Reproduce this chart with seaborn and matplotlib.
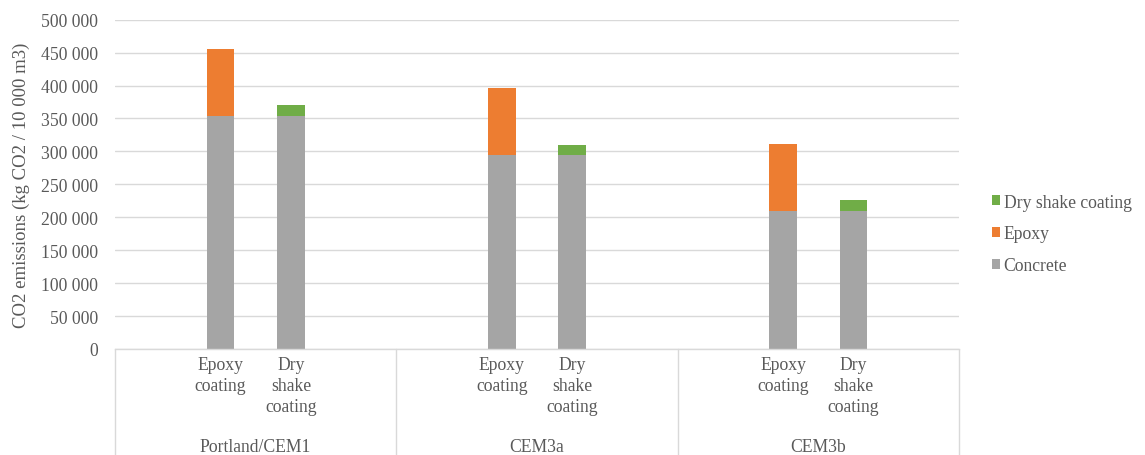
"""
Stacked CO2 emissions per binder type and floor coating, Excel-style chart
with a two-level category axis (coating / cement type).
"""
import pandas as pd
import seaborn as sns
import matplotlib.pyplot as plt
import matplotlib.transforms as mtransforms
from matplotlib.ticker import FuncFormatter

GROUPS = ['Portland/CEM1', 'CEM3a', 'CEM3b']
COATINGS = ['Epoxy\ncoating', 'Dry\nshake\ncoating']

# one entry per bar: group order, then coating order
CONCRETE = [354000, 354000, 295000, 295000, 210000, 210000]
EPOXY = [101500, 0, 101000, 0, 101000, 0]
DRY_SHAKE = [0, 16500, 0, 14000, 0, 16000]

COLORS = {'Concrete': '#A5A5A5', 'Epoxy': '#ED7D31', 'Dry shake coating': '#70AD47'}
TEXT = '#595959'
LINE = '#D9D9D9'
SLOTS = 4  # Excel leaves an empty slot either side of the two bars in each group


def main():
    rows = []
    for g, group in enumerate(GROUPS):
        for k, coating in enumerate(COATINGS):
            i = g * len(COATINGS) + k
            rows.append({
                'group': group,
                'coating': coating,
                'pos': g * SLOTS + 1 + k,
                'Concrete': CONCRETE[i],
                'Epoxy': EPOXY[i],
                'Dry shake coating': DRY_SHAKE[i],
            })
    df = pd.DataFrame(rows)
    # cumulative tops, drawn tallest first so lower layers cover them
    df['top_concrete'] = df['Concrete']
    df['top_epoxy'] = df['top_concrete'] + df['Epoxy']
    df['top_dry'] = df['top_epoxy'] + df['Dry shake coating']

    sns.set_theme(style='whitegrid')
    plt.rcParams['font.family'] = ['Liberation Serif', 'DejaVu Serif']

    fig = plt.figure(figsize=(11.45, 4.56), dpi=100)
    ax = fig.add_axes([115 / 1145, 106 / 456, 844 / 1145, 329.3 / 456])

    for col, name in [('top_dry', 'Dry shake coating'), ('top_epoxy', 'Epoxy'), ('top_concrete', 'Concrete')]:
        sns.barplot(data=df, x='pos', y=col, native_scale=True, width=0.394,
                    color=COLORS[name], saturation=1, label=name, ax=ax,
                    linewidth=0, errorbar=None)

    handles, labels = ax.get_legend_handles_labels()
    if ax.get_legend() is not None:
        ax.get_legend().remove()

    ax.set_xlim(-0.5, len(GROUPS) * SLOTS - 0.5)
    ax.set_ylim(0, 500000)
    ax.set_yticks(range(0, 500001, 50000))
    ax.yaxis.set_major_formatter(FuncFormatter(lambda v, _: f'{int(v):,}'.replace(',', ' ')))
    ax.set_xticks(df['pos'], df['coating'])
    ax.tick_params(axis='y', length=0, pad=12, labelsize=12.7, labelcolor=TEXT)
    ax.tick_params(axis='x', length=0, pad=5, labelsize=12.7, labelcolor=TEXT)
    for t in ax.get_xticklabels():
        t.set_linespacing(1.3)

    ax.set_facecolor('white')
    ax.grid(axis='y', color=LINE, linewidth=1)
    ax.grid(axis='x', visible=False)
    for side in ['left', 'right', 'top']:
        ax.spines[side].set_visible(False)
    ax.spines['bottom'].set_color(LINE)
    ax.spines['bottom'].set_linewidth(1)

    ax.set_xlabel('')
    ax.set_ylabel('CO2 emissions (kg CO2 / 10 000 m3)', fontsize=13.5, color=TEXT, labelpad=8)

    # second level of the category axis
    trans = mtransforms.blended_transform_factory(ax.transData, ax.transAxes)
    for g, group in enumerate(GROUPS):
        ax.text(g * SLOTS + 1.5, -0.295, group, transform=trans, ha='center', va='center',
                fontsize=12.7, color=TEXT)
    for b in range(len(GROUPS) + 1):
        x = b * SLOTS - 0.5
        ax.plot([x, x], [0, -0.33], transform=trans, color=LINE, linewidth=1, clip_on=False)

    leg = fig.legend(handles, labels, loc='center left', bbox_to_anchor=(985 / 1145, 1 - 235 / 456),
                     frameon=False, fontsize=12.7, handlelength=0.45, handleheight=0.45,
                     handletextpad=0.2, labelspacing=0.85, borderaxespad=0)
    for t in leg.get_texts():
        t.set_color(TEXT)

    fig.savefig('out.png', dpi=100, facecolor='white')
    plt.close(fig)


if __name__ == '__main__':
    main()
